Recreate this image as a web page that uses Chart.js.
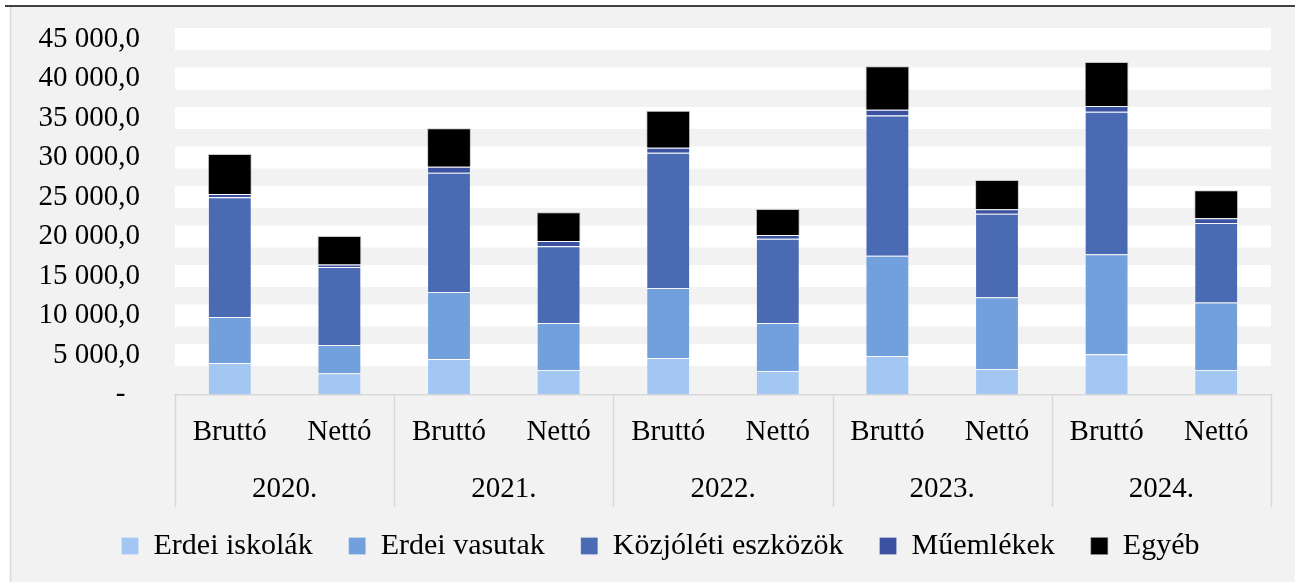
<!DOCTYPE html>
<html lang="hu">
<head>
<meta charset="utf-8">
<title>Erdei közjóléti létesítmények</title>
<script src="https://cdn.jsdelivr.net/npm/chart.js@4.4.1/dist/chart.umd.min.js"></script>
<style>
  html, body { margin: 0; padding: 0; background: #ffffff; }
  #chart { display: block; }
</style>
</head>
<body>
<canvas id="chart" width="1295" height="582"></canvas>
<script>
// Bruttó / Nettó értékek évenként
const categories = ['Bruttó', 'Nettó', 'Bruttó', 'Nettó', 'Bruttó', 'Nettó', 'Bruttó', 'Nettó', 'Bruttó', 'Nettó'];
const years = ['2020.', '2021.', '2022.', '2023.', '2024.'];

const erdeiIskolak      = [3990, 2680, 4490, 3100, 4620, 2980, 4880, 3230, 5090, 3100];
const erdeiVasutak      = [5820, 3590, 8490, 5950, 8870, 6080, 12670, 9080, 12660, 8530];
const kozjoletiEszkozok = [15160, 9870, 15100, 9710, 17100, 10640, 17770, 10560, 18040, 10080];
const muemlekek         = [410, 300, 760, 670, 640, 500, 720, 590, 740, 600];
const egyeb             = [5070, 3630, 4860, 3640, 4690, 3290, 5520, 3700, 5570, 3540];

const yTicks = [0, 5000, 10000, 15000, 20000, 25000, 30000, 35000, 40000, 45000];

const FONT = "'Liberation Serif', 'Times New Roman', serif";

function formatValue(v) {
  if (v === 0) return '-  ';
  const s = String(Math.round(v)).replace(/\B(?=(\d{3})+(?!\d))/g, ' ');
  return s + ',0';
}

// page frame: white page, grey chart box, black rule on top
const framePlugin = {
  id: 'frame',
  beforeDraw(chart) {
    const ctx = chart.ctx;
    ctx.save();
    ctx.fillStyle = '#ffffff';
    ctx.fillRect(0, 0, chart.width, chart.height);
    ctx.fillStyle = '#f2f2f2';
    ctx.fillRect(10, 7, chart.width - 10, chart.height - 7);
    ctx.strokeStyle = '#d9d9d9';
    ctx.lineWidth = 1.5;
    ctx.beginPath();
    ctx.moveTo(10.5, 7);
    ctx.lineTo(10.5, chart.height);
    ctx.stroke();
    ctx.strokeStyle = '#000000';
    ctx.lineWidth = 1.6;
    ctx.beginPath();
    ctx.moveTo(5, 6);
    ctx.lineTo(chart.width, 6);
    ctx.stroke();
    ctx.restore();
  }
};

// wide white bands along each value gridline (none at zero)
const bandPlugin = {
  id: 'bands',
  beforeDatasetsDraw(chart) {
    const ctx = chart.ctx;
    const y = chart.scales.y;
    const area = chart.chartArea;
    ctx.save();
    ctx.fillStyle = '#ffffff';
    yTicks.forEach(v => {
      if (v === 0) return;
      const py = y.getPixelForValue(v);
      ctx.fillRect(area.left, py - 11, area.right - area.left, 22);
    });
    ctx.restore();
  }
};

// year row of the category axis with its separators
const yearAxisPlugin = {
  id: 'yearAxis',
  afterDraw(chart) {
    const ctx = chart.ctx;
    const x = chart.scales.x;
    const area = chart.chartArea;
    const top = chart.scales.y.getPixelForValue(0);
    const bottom = 507;
    const bounds = [];
    for (let g = 0; g <= years.length; g++) {
      const i = g * 2;
      let px;
      if (i === 0) px = area.left;
      else if (i >= categories.length) px = area.right;
      else px = (x.getPixelForValue(i - 1) + x.getPixelForValue(i)) / 2;
      bounds.push(px);
    }
    ctx.save();
    ctx.strokeStyle = '#d9d9d9';
    ctx.lineWidth = 1.5;
    bounds.forEach(px => {
      ctx.beginPath();
      ctx.moveTo(Math.round(px) + 0.5, top);
      ctx.lineTo(Math.round(px) + 0.5, bottom);
      ctx.stroke();
    });
    ctx.fillStyle = '#000000';
    ctx.font = '29px ' + FONT;
    ctx.textAlign = 'center';
    ctx.textBaseline = 'alphabetic';
    years.forEach((y, g) => {
      const cx = (x.getPixelForValue(g * 2) + x.getPixelForValue(g * 2 + 1)) / 2;
      ctx.fillText(y, cx, 497);
    });
    ctx.restore();
  }
};

const edge = 'rgba(255,255,255,0.22)';
const PAD_LEFT = 50;

new Chart(document.getElementById('chart'), {
  type: 'bar',
  data: {
    labels: categories,
    datasets: [
      { label: 'Erdei iskolák', data: erdeiIskolak, backgroundColor: '#a3c7f2', borderColor: edge, borderWidth: 1 },
      { label: 'Erdei vasutak', data: erdeiVasutak, backgroundColor: '#72a0dc', borderColor: edge, borderWidth: 1 },
      { label: 'Közjóléti eszközök', data: kozjoletiEszkozok, backgroundColor: '#4a6bb3', borderColor: edge, borderWidth: 1 },
      { label: 'Műemlékek', data: muemlekek, backgroundColor: '#3a529f', borderColor: edge, borderWidth: 1 },
      { label: 'Egyéb', data: egyeb, backgroundColor: '#000000', borderColor: 'rgba(150,150,150,0.5)', borderWidth: 1 }
    ]
  },
  options: {
    responsive: false,
    animation: false,
    devicePixelRatio: 1,
    layout: { padding: { top: 39, left: PAD_LEFT, right: 24, bottom: 11 } },
    datasets: { bar: { barPercentage: 0.4, categoryPercentage: 1.0 } },
    scales: {
      x: {
        stacked: true,
        grid: { display: false, drawTicks: false },
        border: { display: true, color: '#d9d9d9', width: 1.5 },
        ticks: { color: '#000000', font: { family: FONT, size: 29 }, padding: 20, maxRotation: 0, autoSkip: false },
        afterFit(scale) { scale.height = 100.5; }
      },
      y: {
        stacked: true,
        min: 0,
        max: 45000,
        afterBuildTicks(scale) { scale.ticks = yTicks.map(v => ({ value: v })); },
        // tick marks are hidden; their length only sets the label gap
        grid: { display: false, drawTicks: true, tickLength: 33 },
        border: { display: false },
        ticks: {
          color: '#000000',
          font: { family: FONT, size: 29 },
          padding: 2,
          callback: v => formatValue(v)
        },
        afterFit(scale) { scale.width = 175 - PAD_LEFT; },
        // let the value labels run into the left margin
        afterUpdate(scale) { scale._computeLabelArea = () => undefined; }
      }
    },
    plugins: {
      legend: {
        position: 'bottom',
        labels: {
          color: '#000000',
          font: { family: FONT, size: 30 },
          boxWidth: 17,
          boxHeight: 17,
          padding: 36
        }
      },
      tooltip: { enabled: false },
      title: { display: false }
    }
  },
  plugins: [framePlugin, bandPlugin, yearAxisPlugin]
});
</script>
</body>
</html>
